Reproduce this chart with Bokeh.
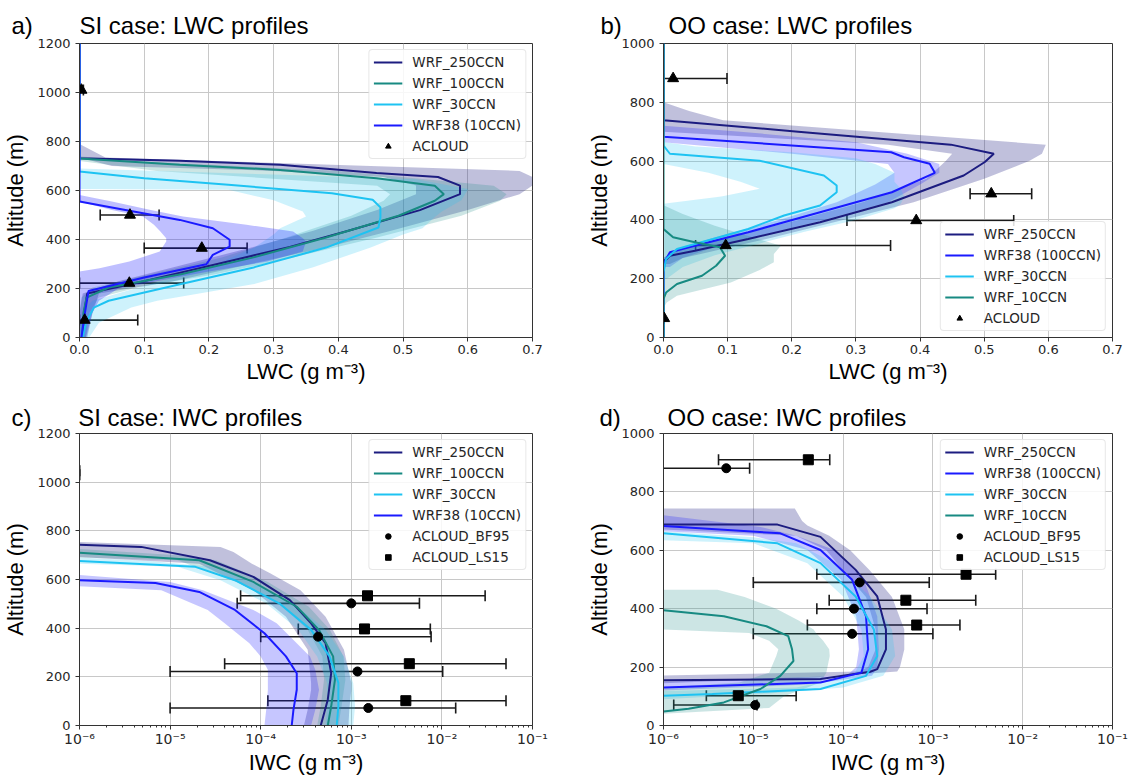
from bokeh.plotting import figure
from bokeh.models import (Range1d, FixedTicker, Whisker, TeeHead, Legend, LegendItem,
                          ColumnDataSource)
from bokeh.layouts import gridplot
from bokeh.embed import file_html
from bokeh.resources import INLINE

# ---------------- colours ----------------
NAVY = "#1c1c80"
TEAL = "#178a82"
CYAN = "#1ec3f2"
BLUE = "#1a1aff"

# ================= a) SI case: LWC =================
A_250_ALT = [0, 100, 180, 230, 300, 370, 435, 520, 585, 620, 655, 671, 705, 721, 732, 1200]
A_250_X = [0.005, 0.007, 0.012, 0.10, 0.213, 0.325, 0.414, 0.526, 0.588, 0.588, 0.554, 0.459, 0.31, 0.155, 0.0, 0.0]
A_250_BALT = [0, 100, 180, 230, 300, 370, 435, 520, 585, 620, 655, 680, 700, 735, 790]
A_250_LO = [0.0, 0.0, 0.005, 0.06, 0.165, 0.27, 0.36, 0.46, 0.52, 0.52, 0.47, 0.30, 0.05, 0.0, 0.0]
A_250_HI = [0.012, 0.02, 0.03, 0.145, 0.265, 0.385, 0.48, 0.60, 0.68, 0.70, 0.70, 0.68, 0.45, 0.04, 0.0]

A_100_ALT = [0, 100, 163, 204, 258, 327, 408, 497, 558, 585, 619, 650, 684, 705, 731, 1200]
A_100_X = [0.004, 0.006, 0.011, 0.045, 0.157, 0.269, 0.381, 0.493, 0.549, 0.563, 0.549, 0.459, 0.31, 0.155, 0.0, 0.0]
A_100_BALT = [0, 100, 163, 204, 258, 327, 408, 497, 558, 585, 619, 680, 720, 740]
A_100_LO = [0.0, 0.0, 0.003, 0.02, 0.11, 0.22, 0.32, 0.42, 0.47, 0.48, 0.46, 0.12, 0.0, 0.0]
A_100_HI = [0.01, 0.015, 0.03, 0.09, 0.21, 0.33, 0.46, 0.59, 0.65, 0.66, 0.64, 0.40, 0.08, 0.0]

A_30_ALT = [0, 60, 122, 150, 218, 286, 367, 449, 490, 531, 562, 589, 623, 650, 678, 1200]
A_30_X = [0.005, 0.01, 0.022, 0.045, 0.157, 0.269, 0.381, 0.462, 0.465, 0.465, 0.453, 0.39, 0.23, 0.10, 0.0, 0.0]
A_30_BALT = [0, 60, 122, 150, 218, 286, 367, 420, 446, 494, 514, 560, 603, 606, 646, 665, 690]
A_30_LO = [0.0, 0.0, 0.01, 0.02, 0.11, 0.20, 0.27, 0.30, 0.31, 0.35, 0.345, 0.30, 0.23, 0.0, 0.0, 0.0, 0.0]
A_30_HI = [0.015, 0.03, 0.08, 0.12, 0.27, 0.36, 0.45, 0.50, 0.53, 0.55, 0.56, 0.59, 0.60, 0.60, 0.52, 0.30, 0.0]

A_10_ALT = [0, 95, 190, 245, 299, 337, 371, 399, 446, 480, 531, 555, 1200]
A_10_X = [0.003, 0.008, 0.014, 0.1, 0.196, 0.206, 0.232, 0.232, 0.206, 0.155, 0.05, 0.0, 0.0]
A_10_BALT = [0, 100, 150, 200, 250, 269, 283, 310, 351, 392, 405, 433, 460, 494, 520, 555, 582]
A_10_LO = [0.0, 0.0, 0.0, 0.0, 0.0, 0.0, 0.031, 0.077, 0.124, 0.134, 0.134, 0.125, 0.115, 0.098, 0.05, 0.0, 0.0]
A_10_HI = [0.01, 0.02, 0.03, 0.06, 0.16, 0.20, 0.23, 0.29, 0.345, 0.35, 0.345, 0.33, 0.258, 0.16, 0.11, 0.05, 0.0]

A_OBS_ALT = [1010, 500, 365, 222, 71]
A_OBS_X = [0.003, 0.078, 0.189, 0.077, 0.008]
A_OBS_LO = [0.0, 0.032, 0.10, 0.0, 0.0]
A_OBS_HI = [0.006, 0.123, 0.259, 0.161, 0.09]

# ================= b) OO case: LWC =================
B_250_ALT = [0, 260, 267, 278, 295, 335, 392, 460, 551, 597, 625, 656, 700, 739, 1000]
B_250_X = [0.0, 0.0, 0.005, 0.01, 0.049, 0.132, 0.244, 0.356, 0.468, 0.501, 0.515, 0.448, 0.21, 0.0, 0.0]
B_250_BALT = [250, 270, 300, 340, 400, 460, 540, 600, 625, 656, 700, 739, 770, 800]
B_250_LO = [0.0, 0.0, 0.02, 0.10, 0.21, 0.31, 0.41, 0.44, 0.45, 0.35, 0.0, 0.0, 0.0, 0.0]
B_250_HI = [0.01, 0.03, 0.09, 0.17, 0.28, 0.39, 0.50, 0.57, 0.59, 0.596, 0.33, 0.093, 0.04, 0.0]

B_100_ALT = [0, 250, 290, 312, 358, 426, 494, 560, 591, 613, 630, 683, 1000]
B_100_X = [0.0, 0.0, 0.01, 0.049, 0.132, 0.244, 0.356, 0.423, 0.415, 0.375, 0.355, 0.0, 0.0]
B_100_BALT = [240, 270, 300, 340, 400, 460, 520, 560, 590, 625, 664, 700, 720]
B_100_LO = [0.0, 0.0, 0.02, 0.08, 0.18, 0.27, 0.33, 0.36, 0.35, 0.20, 0.0, 0.0, 0.0]
B_100_HI = [0.01, 0.03, 0.07, 0.14, 0.25, 0.35, 0.40, 0.43, 0.43, 0.38, 0.30, 0.12, 0.0]

B_30_ALT = [0, 222, 267, 301, 335, 369, 415, 449, 494, 517, 551, 601, 625, 653, 1000]
B_30_X = [0.0, 0.0, 0.004, 0.021, 0.077, 0.132, 0.188, 0.244, 0.27, 0.27, 0.25, 0.15, 0.01, 0.0, 0.0]
B_30_BALT = [200, 240, 280, 320, 360, 400, 440, 455, 480, 506, 530, 560, 590, 610, 630, 650, 665]
B_30_LO = [0.0, 0.0, 0.0, 0.0, 0.0, 0.0, 0.0, 0.0, 0.09, 0.15, 0.12, 0.07, 0.0, 0.0, 0.0, 0.0, 0.0]
B_30_HI = [0.005, 0.03, 0.08, 0.15, 0.22, 0.30, 0.36, 0.37, 0.375, 0.37, 0.36, 0.36, 0.33, 0.30, 0.20, 0.05, 0.0]

B_10_ALT = [0, 131, 153, 182, 210, 244, 278, 307, 324, 341, 369, 1000]
B_10_X = [0.0, 0.0, 0.004, 0.021, 0.06, 0.082, 0.096, 0.088, 0.049, 0.015, 0.0, 0.0]
B_10_BALT = [100, 119, 142, 187, 230, 256, 284, 312, 340, 380, 420, 450]
B_10_LO = [0.0, 0.0, 0.0, 0.0, 0.0, 0.0, 0.0, 0.0, 0.0, 0.0, 0.0, 0.0]
B_10_HI = [0.0, 0.005, 0.021, 0.105, 0.15, 0.172, 0.172, 0.183, 0.14, 0.08, 0.03, 0.0]

B_OBS_ALT = [881, 489, 398, 313, 65]
B_OBS_X = [0.015, 0.511, 0.394, 0.097, 0.001]
B_OBS_LO = [0.0, 0.478, 0.286, 0.05, 0.001]
B_OBS_HI = [0.099, 0.574, 0.546, 0.354, 0.001]

# ================= c) SI case: IWC =================
C_250_ALT = [0, 106, 215, 338, 420, 515, 611, 679, 734, 743]
C_250_X = [4.6e-4, 5.5e-4, 6.0e-4, 5.2e-4, 3.6e-4, 2.1e-4, 8.3e-5, 2.75e-5, 4.8e-6, 1e-6]
C_250_BALT = [0, 65, 147, 175, 311, 447, 556, 624, 665, 713, 734, 754]
C_250_LO = [3.0e-4, 3.3e-4, 3.6e-4, 3.6e-4, 3.3e-4, 1.9e-4, 8.3e-5, 3.5e-5, 2.1e-5, 1e-7, 1e-7, 1e-7]
C_250_HI = [9.3e-4, 9.5e-4, 1.0e-3, 1.0e-3, 8.3e-4, 5.2e-4, 2.75e-4, 1.3e-4, 8e-5, 5e-5, 3.6e-5, 1e-6]

C_100_ALT = [0, 79, 188, 284, 393, 488, 590, 679, 710]
C_100_X = [5.5e-4, 6.0e-4, 6.6e-4, 6.3e-4, 4.4e-4, 2.5e-4, 8.3e-5, 2.1e-5, 1e-6]
C_100_BALT = [0, 79, 188, 284, 393, 488, 590, 679, 700, 725]
C_100_LO = [4.2e-4, 4.6e-4, 5.0e-4, 4.8e-4, 3.3e-4, 1.8e-4, 5.5e-5, 1.2e-5, 1e-7, 1e-7]
C_100_HI = [7.2e-4, 7.8e-4, 8.6e-4, 8.2e-4, 5.8e-4, 3.4e-4, 1.2e-4, 3.2e-5, 1.2e-5, 1e-6]

C_30_ALT = [0, 79, 175, 284, 393, 502, 597, 652, 676]
C_30_X = [6.9e-4, 7.2e-4, 7.2e-4, 5.75e-4, 3.6e-4, 1.6e-4, 5.2e-5, 1.9e-5, 1e-6]
C_30_BALT = [0, 79, 175, 284, 393, 502, 597, 652, 676, 690]
C_30_LO = [5.2e-4, 5.4e-4, 5.4e-4, 4.2e-4, 2.6e-4, 1.15e-4, 3.6e-5, 1.2e-5, 1e-7, 1e-7]
C_30_HI = [1.05e-3, 1.1e-3, 1.05e-3, 8.3e-4, 5.2e-4, 2.3e-4, 7.5e-5, 2.8e-5, 6e-6, 1e-6]

C_10_ALT = [0, 65, 147, 215, 284, 379, 475, 549, 586, 597]
C_10_X = [2.2e-4, 2.3e-4, 2.5e-4, 2.5e-4, 1.9e-4, 1.1e-4, 5.2e-5, 2.1e-5, 6.9e-6, 1e-6]
C_10_BALT = [0, 65, 147, 229, 284, 338, 420, 475, 556, 590, 618]
C_10_LO = [1.1e-4, 1.15e-4, 1.2e-4, 1.2e-4, 1.0e-4, 7.5e-5, 4.0e-5, 2.6e-5, 8e-6, 1e-7, 1e-7]
C_10_HI = [3.6e-4, 4.0e-4, 4.4e-4, 4.0e-4, 3.5e-4, 2.5e-4, 1.5e-4, 8.3e-5, 2.3e-5, 1e-5, 1e-6]

C_BF_ALT = [502, 365, 222, 72]
C_BF_X = [1.0e-3, 4.3e-4, 1.17e-3, 1.54e-3]
C_BF_LO = [5.5e-5, 1.0e-4, 1.0e-5, 1.0e-5]
C_BF_HI = [5.65e-3, 7.6e-3, 1.02e-2, 1.42e-2]

C_LS_ALT = [533, 397, 254, 102]
C_LS_X = [1.51e-3, 1.4e-3, 4.37e-3, 4.0e-3]
C_LS_LO = [6.0e-5, 2.6e-4, 4.0e-5, 1.2e-4]
C_LS_HI = [3.0e-2, 7.45e-3, 5.1e-2, 5.1e-2]

C_TOP_ALT = [1030, 1047]
C_TOP_LO = [1e-6, 1e-6]
C_TOP_HI = [1e-6, 1e-6]

# ================= d) OO case: IWC =================
D_250_ALT = [155, 159, 184, 193, 261, 329, 442, 533, 646, 688, 688]
D_250_X = [1e-6, 5.6e-5, 2.0e-4, 2.4e-4, 3.0e-4, 3.0e-4, 2.4e-4, 1.38e-4, 5.6e-5, 1.86e-5, 1e-6]
D_250_BALT = [145, 165, 185, 200, 260, 330, 440, 530, 600, 650, 685, 700, 743]
D_250_LO = [1e-7, 1e-7, 1.5e-4, 1.9e-4, 2.3e-4, 2.3e-4, 1.8e-4, 1.0e-4, 6.5e-5, 3e-5, 1e-7, 1e-7, 1e-7]
D_250_HI = [1e-6, 5e-5, 4.0e-4, 4.3e-4, 4.8e-4, 4.8e-4, 3.5e-4, 2.0e-4, 1.2e-4, 7e-5, 4e-5, 3.5e-5, 2.9e-5]

D_100_ALT = [130, 147, 181, 261, 374, 499, 601, 658, 683]
D_100_X = [1e-6, 5.6e-5, 1.6e-4, 1.9e-4, 1.8e-4, 1.26e-4, 5.6e-5, 2.0e-5, 1e-6]
D_100_BALT = [120, 140, 170, 200, 261, 374, 499, 601, 650, 680, 720]
D_100_LO = [1e-7, 1e-7, 1.1e-4, 1.4e-4, 1.5e-4, 1.4e-4, 9.5e-5, 4e-5, 1e-5, 1e-7, 1e-7]
D_100_HI = [1e-6, 4e-5, 2.1e-4, 2.4e-4, 2.5e-4, 2.4e-4, 1.7e-4, 8e-5, 3e-5, 1.2e-5, 1e-6]

D_30_ALT = [102, 108, 125, 170, 238, 329, 442, 556, 624, 658]
D_30_X = [1e-6, 3.5e-6, 5.6e-5, 1.8e-4, 2.4e-4, 2.2e-4, 1.38e-4, 5.6e-5, 1.86e-5, 1e-6]
D_30_BALT = [90, 110, 130, 170, 238, 329, 442, 556, 624, 645, 665]
D_30_LO = [1e-7, 1e-7, 3e-5, 1.3e-4, 1.7e-4, 1.6e-4, 1.0e-4, 4e-5, 1e-5, 1e-7, 1e-7]
D_30_HI = [1e-6, 1.5e-5, 1.0e-4, 2.8e-4, 3.8e-4, 3.5e-4, 2.0e-4, 8e-5, 3e-5, 1e-5, 1e-6]

D_10_ALT = [48, 57, 79, 125, 170, 221, 261, 306, 340, 374, 395]
D_10_X = [1e-6, 1.9e-6, 4.7e-6, 1.2e-5, 2.0e-5, 2.8e-5, 2.7e-5, 2.45e-5, 1.4e-5, 4.7e-6, 1e-6]
D_10_BALT = [40, 60, 100, 130, 147, 181, 238, 261, 290, 317, 329, 360, 400, 440, 465]
D_10_LO = [1e-7, 1e-7, 1e-7, 1e-6, 7e-6, 1.5e-5, 1.8e-5, 1.9e-5, 1.5e-5, 9e-6, 1e-6, 1e-7, 1e-7, 1e-7, 1e-7]
D_10_HI = [1e-6, 1.5e-5, 2.2e-5, 4e-5, 5.6e-5, 6.5e-5, 7.1e-5, 7e-5, 6e-5, 5e-5, 4.7e-5, 3.2e-5, 1.8e-5, 8e-6, 4e-6]

D_BF_ALT = [881, 490, 400, 314, 70]
D_BF_X = [5.0e-6, 1.53e-4, 1.32e-4, 1.26e-4, 1.05e-5]
D_BF_LO = [1e-7, 1.0e-5, 5.1e-5, 1.0e-5, 1.3e-6]
D_BF_HI = [9.1e-6, 9.1e-4, 8.6e-4, 1.0e-3, 1.1e-5]

D_LS_ALT = [910, 518, 429, 344, 102]
D_LS_X = [4.1e-5, 2.34e-3, 5.0e-4, 6.6e-4, 6.8e-6]
D_LS_LO = [4.1e-6, 5.1e-5, 7.0e-5, 4.0e-5, 3.0e-6]
D_LS_HI = [7.1e-5, 5.0e-3, 3.0e-3, 2.0e-3, 3.0e-5]

LOG_TICKS = [1e-6, 1e-5, 1e-4, 1e-3, 1e-2, 1e-1]
LOG_LABELS = ["10\u207b\u2076", "10\u207b\u2075", "10\u207b\u2074", "10\u207b\u00b3", "10\u207b\u00b2", "10\u207b\u00b9"]

TICK_FONT = "DejaVu Sans"
TEXT_FONT = "Liberation Sans"
NB = "\u00a0"


def make_fig(xlog, ymax, width, height, left, right, top, bottom, xlabel, title, t_off, t_stand):
    kw = dict(width=width, height=height, output_backend="svg", toolbar_location=None,
              min_border_left=left, min_border_right=right, min_border_top=top,
              min_border_bottom=bottom, background_fill_color="white",
              border_fill_color="white", title=title)
    if xlog:
        p = figure(x_axis_type="log", x_range=Range1d(1e-6, 1e-1), y_range=Range1d(0, ymax), **kw)
        minor = [m * 10.0 ** e for e in range(-6, -1) for m in range(2, 10)]
        p.xaxis.ticker = FixedTicker(ticks=LOG_TICKS, minor_ticks=minor)
        p.xaxis.major_label_overrides = {t: s for t, s in zip(LOG_TICKS, LOG_LABELS)}
        p.xaxis.minor_tick_out = 2
        p.xaxis.minor_tick_in = 0
        p.xaxis.minor_tick_line_color = "#333333"
    else:
        p = figure(x_range=Range1d(0, 0.7), y_range=Range1d(0, ymax), **kw)
        p.xaxis.ticker = FixedTicker(ticks=[0.0, 0.1, 0.2, 0.3, 0.4, 0.5, 0.6, 0.7])
        p.xaxis.major_label_overrides = {0.0: "0.0"}
        p.xaxis.minor_tick_line_color = None
    p.yaxis.ticker = FixedTicker(ticks=list(range(0, ymax + 1, 200)))
    p.yaxis.minor_tick_line_color = None
    for ax in (p.xaxis, p.yaxis):
        ax.major_tick_out = 4
        ax.major_tick_in = 0
        ax.major_tick_line_color = "#333333"
        ax.axis_line_color = "#333333"
        ax.major_label_text_font = TICK_FONT
        ax.major_label_text_font_size = "13px"
        ax.major_label_text_color = "#262626"
        ax.axis_label_text_font = TEXT_FONT
        ax.axis_label_text_font_size = "22px"
        ax.axis_label_text_font_style = "normal"
        ax.axis_label_text_color = "black"
    if xlog:
        p.xaxis.major_label_text_font_size = "14px"
        p.xaxis.major_label_standoff = 1
        p.xaxis.axis_label_standoff = 0
    else:
        p.xaxis.major_label_standoff = 3
        p.xaxis.axis_label_standoff = 2
    p.yaxis.major_label_standoff = 5
    p.yaxis.axis_label_standoff = 6
    p.xaxis.axis_label = xlabel
    p.yaxis.axis_label = "Altitude (m)"
    p.outline_line_color = "#333333"
    p.outline_line_width = 1
    p.grid.grid_line_color = "#c8c8c8"
    p.grid.grid_line_width = 1
    p.title.align = "left"
    p.title.offset = t_off
    p.title.standoff = t_stand
    p.title.text_font = TEXT_FONT
    p.title.text_font_size = "24px"
    p.title.text_font_style = "normal"
    p.title.text_color = "black"
    return p


def add_band(p, balt, lo, hi, color, alpha):
    p.harea(y=balt, x1=lo, x2=hi, fill_color=color, fill_alpha=alpha)


def add_obs(p, alt, x, lo, hi, marker, size):
    src = ColumnDataSource(dict(y=alt, x=x, lo=lo, hi=hi))
    w = Whisker(source=src, base="y", lower="lo", upper="hi", dimension="width",
                line_color="#1a1a1a", line_width=1.6,
                upper_head=TeeHead(size=11, line_color="#1a1a1a", line_width=1.6),
                lower_head=TeeHead(size=11, line_color="#1a1a1a", line_width=1.6))
    p.add_layout(w)
    return p.scatter(x="x", y="y", source=src, marker=marker, size=size, color="black")


def add_legend(p, items, location):
    lg = Legend(items=[LegendItem(label=l, renderers=[r]) for l, r in items], location=location)
    lg.label_text_font = TICK_FONT
    lg.label_text_font_size = "13.5px"
    lg.label_text_color = "#262626"
    lg.glyph_width = 29
    lg.glyph_height = 14
    lg.label_standoff = 10
    lg.label_height = 16
    lg.spacing = 5
    lg.padding = 4
    lg.margin = 6
    lg.border_line_color = "#d0d0d0"
    lg.border_line_width = 1
    lg.background_fill_alpha = 0.85
    if "border_radius" in lg.properties():
        lg.border_radius = 4
    p.add_layout(lg)


def profiles(p, specs):
    for spec in specs:
        add_band(p, spec[2], spec[3], spec[4], spec[5], spec[6])
    return [p.line(x=spec[1], y=spec[0], line_color=spec[5], line_width=2) for spec in specs]


XL_LWC = "LWC (g m\u207b\u00b3)"
XL_IWC = "IWC (g m\u207b\u00b3)"

# ---------- panel a ----------
pa = make_fig(False, 1200, 566, 388, 79, 34, 43, 51, XL_LWC,
              "a)" + NB * 7 + "SI case: LWC profiles", -68, 10)
la = profiles(pa, [
    (A_250_ALT, A_250_X, A_250_BALT, A_250_LO, A_250_HI, NAVY, 0.28),
    (A_100_ALT, A_100_X, A_100_BALT, A_100_LO, A_100_HI, TEAL, 0.22),
    (A_30_ALT, A_30_X, A_30_BALT, A_30_LO, A_30_HI, CYAN, 0.22),
    (A_10_ALT, A_10_X, A_10_BALT, A_10_LO, A_10_HI, BLUE, 0.28),
])
oa = add_obs(pa, A_OBS_ALT, A_OBS_X, A_OBS_LO, A_OBS_HI, "triangle", 11)
add_legend(pa, [("WRF_250CCN", la[0]), ("WRF_100CCN", la[1]), ("WRF_30CCN", la[2]),
                ("WRF38 (10CCN)", la[3]), ("ACLOUD", oa)], "top_right")

# ---------- panel b ----------
pb = make_fig(False, 1000, 566, 388, 97, 20, 43, 51, XL_LWC,
              "b)" + NB * 7 + "OO case: LWC profiles", -63, 10)
lb = profiles(pb, [
    (B_250_ALT, B_250_X, B_250_BALT, B_250_LO, B_250_HI, NAVY, 0.28),
    (B_100_ALT, B_100_X, B_100_BALT, B_100_LO, B_100_HI, BLUE, 0.25),
    (B_30_ALT, B_30_X, B_30_BALT, B_30_LO, B_30_HI, CYAN, 0.22),
    (B_10_ALT, B_10_X, B_10_BALT, B_10_LO, B_10_HI, TEAL, 0.22),
])
ob = add_obs(pb, B_OBS_ALT, B_OBS_X, B_OBS_LO, B_OBS_HI, "triangle", 11)
add_legend(pb, [("WRF_250CCN", lb[0]), ("WRF38 (100CCN)", lb[1]), ("WRF_30CCN", lb[2]),
                ("WRF_10CCN", lb[3]), ("ACLOUD", ob)], "bottom_right")

# ---------- panel c ----------
pc = make_fig(True, 1200, 566, 389, 79, 34, 45, 51, XL_IWC,
              "c)" + NB * 7 + "SI case: IWC profiles", -68, 6)
lc = profiles(pc, [
    (C_250_ALT, C_250_X, C_250_BALT, C_250_LO, C_250_HI, NAVY, 0.28),
    (C_100_ALT, C_100_X, C_100_BALT, C_100_LO, C_100_HI, TEAL, 0.22),
    (C_30_ALT, C_30_X, C_30_BALT, C_30_LO, C_30_HI, CYAN, 0.22),
    (C_10_ALT, C_10_X, C_10_BALT, C_10_LO, C_10_HI, BLUE, 0.25),
])
top_src = ColumnDataSource(dict(y=C_TOP_ALT, lo=C_TOP_LO, hi=C_TOP_HI))
pc.add_layout(Whisker(source=top_src, base="y", lower="lo", upper="hi", dimension="width",
                      line_color="#1a1a1a", line_width=1.6,
                      upper_head=TeeHead(size=11, line_color="#1a1a1a", line_width=1.6),
                      lower_head=TeeHead(size=11, line_color="#1a1a1a", line_width=1.6)))
bc = add_obs(pc, C_BF_ALT, C_BF_X, C_BF_LO, C_BF_HI, "circle", 9)
sc = add_obs(pc, C_LS_ALT, C_LS_X, C_LS_LO, C_LS_HI, "square", 10)
add_legend(pc, [("WRF_250CCN", lc[0]), ("WRF_100CCN", lc[1]), ("WRF_30CCN", lc[2]),
                ("WRF38 (10CCN)", lc[3]), ("ACLOUD_BF95", bc), ("ACLOUD_LS15", sc)], "top_right")

# ---------- panel d ----------
pd_ = make_fig(True, 1000, 566, 389, 97, 20, 45, 51, XL_IWC,
               "d)" + NB * 7 + "OO case: IWC profiles", -64, 6)
ld = profiles(pd_, [
    (D_250_ALT, D_250_X, D_250_BALT, D_250_LO, D_250_HI, NAVY, 0.28),
    (D_100_ALT, D_100_X, D_100_BALT, D_100_LO, D_100_HI, BLUE, 0.25),
    (D_30_ALT, D_30_X, D_30_BALT, D_30_LO, D_30_HI, CYAN, 0.22),
    (D_10_ALT, D_10_X, D_10_BALT, D_10_LO, D_10_HI, TEAL, 0.22),
])
bd = add_obs(pd_, D_BF_ALT, D_BF_X, D_BF_LO, D_BF_HI, "circle", 9)
sd = add_obs(pd_, D_LS_ALT, D_LS_X, D_LS_LO, D_LS_HI, "square", 10)
add_legend(pd_, [("WRF_250CCN", ld[0]), ("WRF38 (100CCN)", ld[1]), ("WRF_30CCN", ld[2]),
                 ("WRF_10CCN", ld[3]), ("ACLOUD_BF95", bd), ("ACLOUD_LS15", sd)], "top_right")

grid = gridplot([[pa, pb], [pc, pd_]], toolbar_location=None)

open("out.html", "w").write(file_html(grid, INLINE))
